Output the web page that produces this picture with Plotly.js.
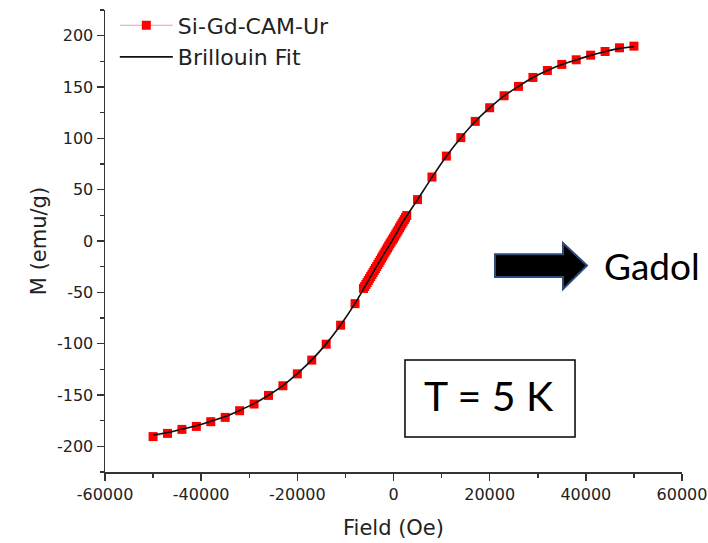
<!DOCTYPE html>
<html>
<head>
<meta charset="utf-8">
<script src="https://cdn.plot.ly/plotly-3.0.1.min.js"></script>
<style>html,body{margin:0;padding:0;background:#fff;}#chart{width:708px;height:543px;}</style>
</head>
<body>
<div id="chart"></div>
<script>
// Measured data: field (Oe) and magnetization (emu/g)
var dataField = [
  -50000, -47000, -44000, -41000, -38000, -35000, -32000, -29000, -26000, -23000,
  -20000, -17000, -14000, -11000, -8000,
  -6250, -6000, -5750, -5500, -5250, -5000, -4750, -4500, -4250, -4000,
  -3750, -3500, -3250, -3000, -2750, -2500, -2250, -2000, -1750, -1500,
  -1250, -1000, -750, -500, -250, 0, 250, 500, 750, 1000,
  1250, 1500, 1750, 2000, 2250, 2500, 2750,
  5000, 8000, 11000, 14000, 17000, 20000, 23000, 26000, 29000, 32000,
  35000, 38000, 41000, 44000, 47000, 50000
];
var dataM = [
  -190.5, -187.4, -183.5, -180.6, -176.0, -171.8, -165.3, -158.8, -150.4, -141.0,
  -129.4, -116.0, -100.5, -82.0, -61.0,
  -46.2, -44.3, -42.4, -40.5, -38.5, -36.6, -34.6, -32.7, -30.7, -28.7,
  -26.8, -24.8, -22.8, -20.8, -18.8, -16.8, -14.8, -12.8, -10.8, -8.8,
  -6.8, -4.8, -2.8, -0.9, 1.0, 2.8, 4.8, 6.8, 8.8, 10.8,
  12.8, 14.8, 16.8, 18.8, 20.8, 22.8, 24.8,
  40.3, 62.3, 82.7, 100.7, 116.5, 129.8, 141.5, 150.6, 159.3, 166.1,
  172.0, 176.5, 181.0, 184.6, 188.2, 189.8
];
// Brillouin fit curve
var fitField = [
  -50000, -47000, -44000, -41000, -38000, -35000, -32000, -29000, -26000, -23000,
  -20000, -17000, -14000, -11000, -8000, -5000, -2000, 0, 2000, 5000,
  8000, 11000, 14000, 17000, 20000, 23000, 26000, 29000, 32000, 35000,
  38000, 41000, 44000, 47000, 50000
];
var fitM = [
  -189.0, -186.6, -183.2, -180.0, -175.6, -171.0, -165.0, -158.4, -150.2, -140.8,
  -129.2, -115.8, -100.2, -81.8, -60.8, -36.6, -12.8, 2.5, 18.8, 40.3,
  62.0, 82.6, 100.6, 116.4, 129.6, 141.3, 150.6, 159.2, 166.0, 171.8,
  176.4, 180.8, 184.4, 187.6, 189.2
];
var seriesNames = ['Si-Gd-CAM-Ur', 'Brillouin Fit'];
// Tick labels (plain hyphen minus as in the original)
var xTickVals = [-60000, -40000, -20000, 0, 20000, 40000, 60000];
var xTickText = ['-60000', '-40000', '-20000', '0', '20000', '40000', '60000'];
var yTickVals = [-200, -150, -100, -50, 0, 50, 100, 150, 200];
var yTickText = ['-200', '-150', '-100', '-50', '0', '50', '100', '150', '200'];

var traces = [
  {
    x: dataField, y: dataM, type: 'scatter', mode: 'lines+markers', name: seriesNames[0],
    line: {color: 'rgba(225,120,120,0.7)', width: 1},
    marker: {symbol: 'square', size: 9, color: '#ff0000', line: {width: 0}}
  },
  {
    x: fitField, y: fitM, type: 'scatter', mode: 'lines', name: seriesNames[1],
    line: {color: '#111111', width: 1.6, shape: 'spline', smoothing: 0.8}
  }
];

var axisFont = {family: 'DejaVu Sans, Arial, sans-serif', size: 16, color: '#222'};
var titleFont = {family: 'DejaVu Sans, Arial, sans-serif', size: 21, color: '#222'};

var layout = {
  width: 708, height: 543,
  margin: {l: 105, r: 26, t: 10, b: 71, pad: 0, autoexpand: false},
  paper_bgcolor: '#ffffff', plot_bgcolor: '#ffffff',
  showlegend: true,
  legend: {
    x: 0.017, y: 1.012, xanchor: 'left', yanchor: 'top',
    bgcolor: 'rgba(0,0,0,0)', borderwidth: 0,
    font: {family: 'DejaVu Sans, Arial, sans-serif', size: 22, color: '#222'},
    itemwidth: 53, tracegroupgap: 0
  },
  xaxis: {
    range: [-60000, 60000],
    tickmode: 'array', tickvals: xTickVals, ticktext: xTickText,
    showgrid: false, zeroline: false,
    showline: true, linecolor: '#333', linewidth: 1.5,
    ticks: 'outside', ticklen: 7, tickwidth: 1.5, tickcolor: '#333',
    minor: {ticks: 'outside', ticklen: 4, tickwidth: 1.5, tickcolor: '#333', dtick: 10000, tick0: 0, showgrid: false},
    tickfont: axisFont,
    title: {text: 'Field (Oe)', font: titleFont, standoff: 17}
  },
  yaxis: {
    range: [-225, 225],
    tickmode: 'array', tickvals: yTickVals, ticktext: yTickText,
    showgrid: false, zeroline: false,
    showline: true, linecolor: '#333', linewidth: 1.5,
    ticks: 'outside', ticklen: 7, tickwidth: 1.5, tickcolor: '#333',
    minor: {ticks: 'outside', ticklen: 4, tickwidth: 1.5, tickcolor: '#333', dtick: 25, tick0: 0, showgrid: false},
    tickfont: axisFont,
    title: {text: 'M (emu/g)', font: titleFont, standoff: 4}
  },
  shapes: [
    {
      type: 'path', xref: 'paper', yref: 'paper',
      path: 'M 0.6759,0.4714 L 0.7938,0.4714 L 0.7938,0.4958 L 0.8354,0.4469 L 0.7938,0.3957 L 0.7938,0.4223 L 0.6759,0.4223 Z',
      fillcolor: '#000000', line: {color: '#2f4b7c', width: 2}
    },
    {
      type: 'rect', xref: 'paper', yref: 'paper',
      x0: 0.5199, x1: 0.8146, y0: 0.0757, y1: 0.2422,
      fillcolor: 'rgba(0,0,0,0)', line: {color: '#000000', width: 1.5}
    }
  ],
  annotations: [
    {
      xref: 'paper', yref: 'paper', x: 0.6655, y: 0.166, xanchor: 'center', yanchor: 'middle',
      text: 'T = 5 K', showarrow: false,
      font: {family: 'Lato, Open Sans, sans-serif', size: 41, color: '#000'}
    },
    {
      xref: 'paper', yref: 'paper', x: 0.862, y: 0.447, xanchor: 'left', yanchor: 'middle',
      text: 'Gadol', showarrow: false,
      font: {family: 'Lato, Open Sans, sans-serif', size: 37, color: '#000'}
    }
  ]
};

Plotly.newPlot('chart', traces, layout, {displayModeBar: false, staticPlot: true});
</script>
</body>
</html>
